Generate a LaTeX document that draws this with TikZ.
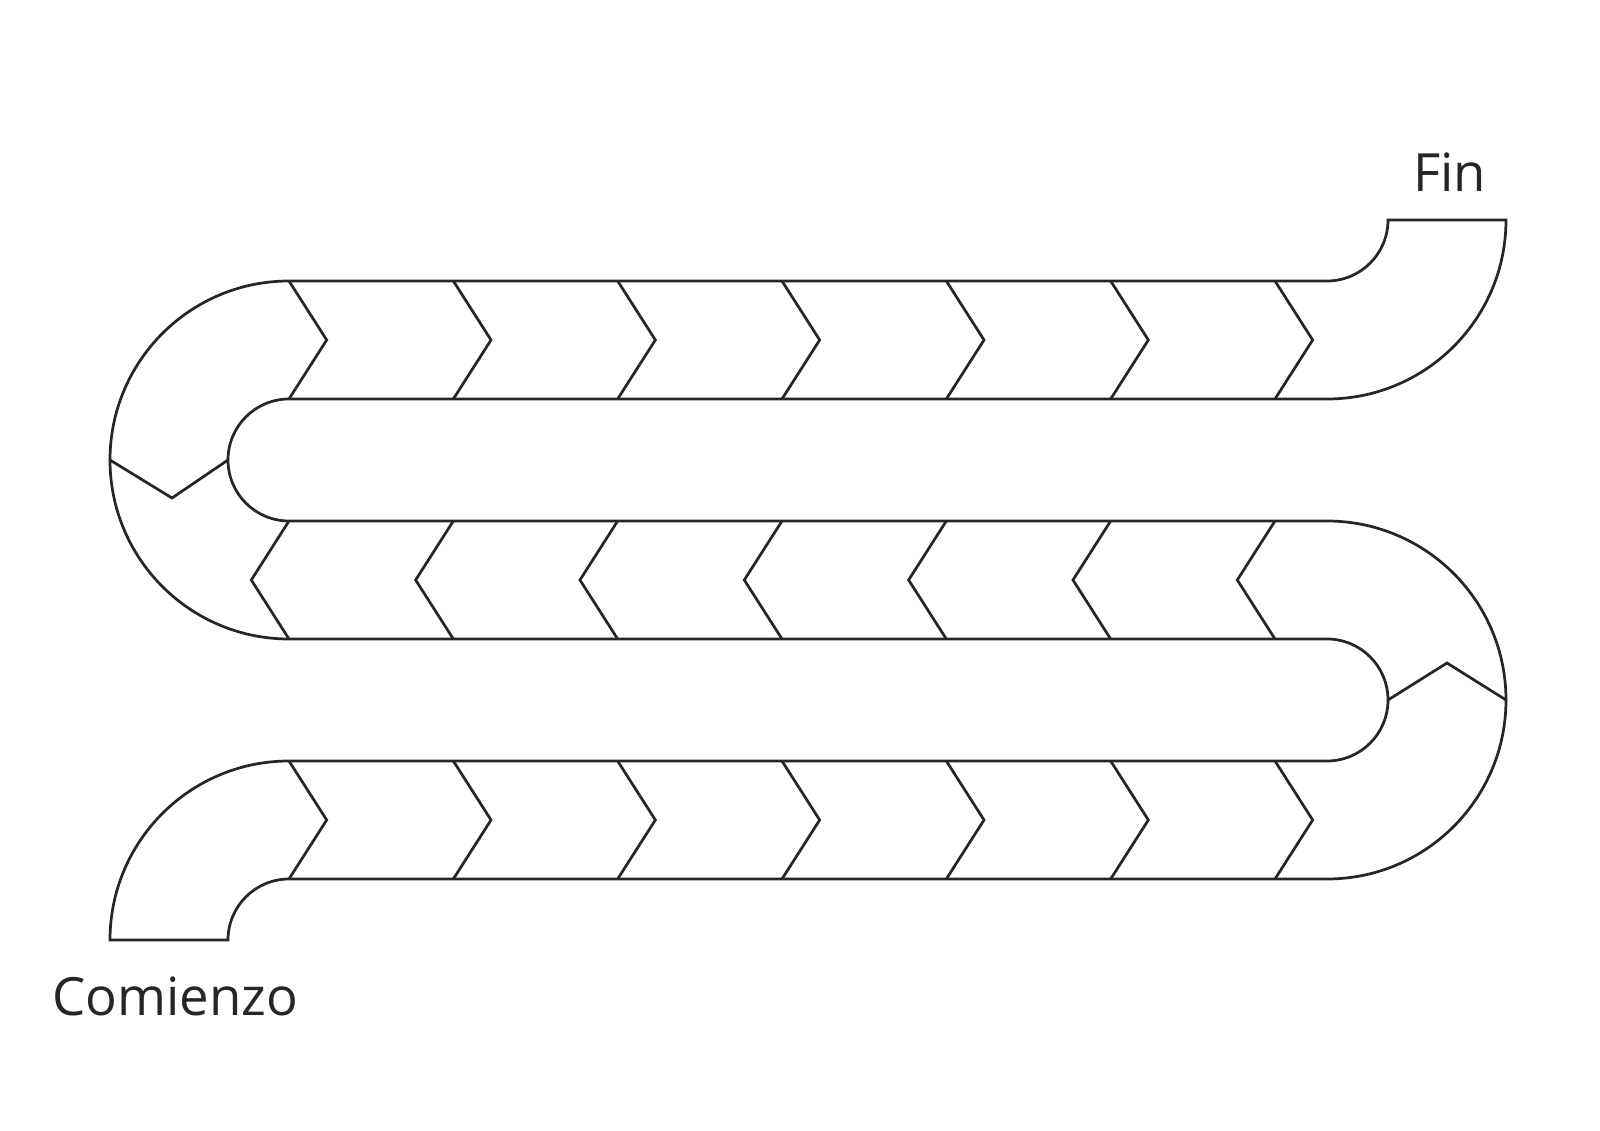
\documentclass[tikz,border=0pt]{standalone}
\usepackage{fontspec}
\setmainfont{Open Sans}
\begin{document}
\begin{tikzpicture}[x=0.02cm,y=-0.02cm,
  track/.style={draw=black!85,line width=1.55pt,line join=miter},
  lbl/.style={anchor=base west,inner sep=0pt,font=\fontsize{30}{35}\selectfont,text=black!85}]
\useasboundingbox[fill=white] (0,0) rectangle (1600,1131);
% outline of the track
\draw[track] (110,940) arc[start angle=180,end angle=270,radius=179]
  -- (1327,761) arc[start angle=90,end angle=-90,radius=61]
  -- (289,639) arc[start angle=90,end angle=270,radius=179]
  -- (1327,281) arc[start angle=90,end angle=0,radius=61]
  -- (1506,220) arc[start angle=0,end angle=90,radius=179]
  -- (289,399) arc[start angle=270,end angle=90,radius=61]
  -- (1327,521) arc[start angle=-90,end angle=90,radius=179]
  -- (289,879) arc[start angle=270,end angle=180,radius=61]
  -- cycle;
% chevrons
\foreach \i in {0,...,6}{
  \pgfmathsetmacro{\xt}{289+164.33*\i}
  \draw[track] (\xt,281) -- (\xt+37.7,340) -- (\xt,399);
  \draw[track] (\xt,521) -- (\xt-37.7,580) -- (\xt,639);
  \draw[track] (\xt,761) -- (\xt+37.7,820) -- (\xt,879);
}
% dividers in the turns
\draw[track] (110,460) -- (172,498) -- (228,460);
\draw[track] (1388,700) -- (1447,663) -- (1506,700);
% labels
\node[lbl] (fin) at (1413,192) {Fin};
\node[lbl] (comienzo) at (52,1015) {Comienzo};
\end{tikzpicture}
\end{document}
